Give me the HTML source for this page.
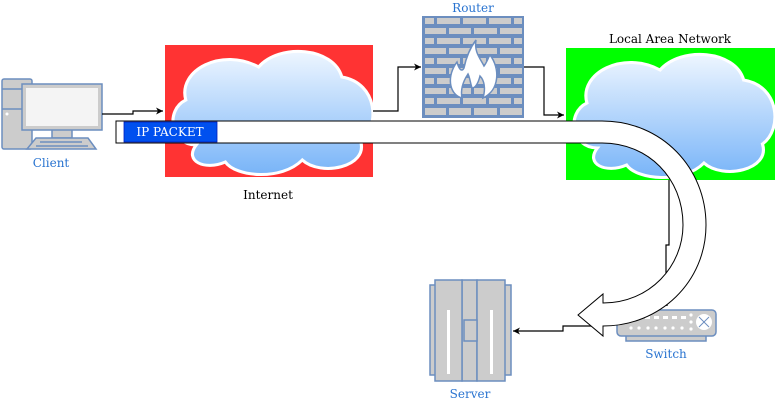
<!DOCTYPE html>
<html><head><style>
html,body{margin:0;padding:0;background:#fff;}
svg{display:block;}
text{font-family:"DejaVu Serif","Liberation Serif",serif;font-size:12px;}
.lbl{fill:#2873d0;}
</style></head><body>
<svg width="775" height="401" viewBox="0 0 775 401" xmlns="http://www.w3.org/2000/svg">
<defs>
<linearGradient id="cg" x1="0" y1="0" x2="0" y2="1">
<stop offset="0" stop-color="#eef6ff"/><stop offset="1" stop-color="#78b4f8"/>
</linearGradient>
<marker id="ar" markerWidth="8" markerHeight="8" refX="7" refY="4" orient="auto" markerUnits="userSpaceOnUse">
<path d="M0,0.5 L7,4 L0,7.5 L2,4 Z" fill="#000"/>
</marker>
<path id="cloud" d="M30,100 C5,100 0,65 20,55 C12,25 55,2 90,22 C110,-2 162,2 170,32 C205,38 207,82 188,96 C196,122 150,132 132,115 C112,136 68,132 58,117 C38,126 18,116 30,100 Z"/>
</defs>

<!-- Internet box -->
<rect x="165" y="45" width="208" height="132" fill="#ff3333"/>
<g transform="translate(165,45) scale(1.04,1)">
<use href="#cloud" fill="url(#cg)" stroke="#fff" stroke-width="3"/>
</g>
<text x="268" y="199" text-anchor="middle" fill="#000">Internet</text>

<!-- LAN box -->
<rect x="566" y="48" width="209" height="132" fill="#00ff00"/>
<g transform="translate(566,48) scale(1.045,1)">
<use href="#cloud" fill="url(#cg)" stroke="#fff" stroke-width="3"/>
</g>
<text x="670" y="43" text-anchor="middle" fill="#000">Local Area Network</text>

<!-- Client -->
<g stroke="#6c8ebf" stroke-width="1.5" fill="#cccccc">
<rect x="2" y="79" width="30" height="70" rx="2"/>
<line x1="2" y1="89" x2="32" y2="89"/>
<line x1="2" y1="109" x2="32" y2="109"/>
<rect x="52" y="128" width="20" height="10"/>
<rect x="22" y="84" width="80" height="46"/>
<rect x="26" y="88" width="72" height="38" fill="#f4f4f4" stroke="none"/>
<path d="M36,138 H88 L96,149 H27 Z"/>
</g>
<circle cx="7" cy="114" r="1.5" fill="#fff"/>
<g stroke="#6c8ebf" stroke-width="1.5"><line x1="40" y1="142" x2="82" y2="142"/><line x1="36" y1="146" x2="88" y2="146"/></g>
<text x="51" y="167" text-anchor="middle" class="lbl">Client</text>

<!-- Router firewall -->
<rect x="422" y="16" width="102" height="102" fill="#6c8ebf"/>
<g fill="#cccccc">
<rect x="425" y="18" width="9" height="6"/><rect x="437" y="18" width="23" height="6"/><rect x="463" y="18" width="23" height="6"/><rect x="489" y="18" width="22" height="6"/><rect x="514" y="18" width="8" height="6"/>
<rect x="425" y="28" width="21" height="6"/><rect x="449" y="28" width="22" height="6"/><rect x="474" y="28" width="23" height="6"/><rect x="500" y="28" width="22" height="6"/>
<rect x="425" y="38" width="9" height="6"/><rect x="437" y="38" width="23" height="6"/><rect x="463" y="38" width="23" height="6"/><rect x="489" y="38" width="22" height="6"/><rect x="514" y="38" width="8" height="6"/>
<rect x="425" y="48" width="21" height="6"/><rect x="449" y="48" width="22" height="6"/><rect x="474" y="48" width="23" height="6"/><rect x="500" y="48" width="22" height="6"/>
<rect x="425" y="58" width="9" height="6"/><rect x="437" y="58" width="23" height="6"/><rect x="463" y="58" width="23" height="6"/><rect x="489" y="58" width="22" height="6"/><rect x="514" y="58" width="8" height="6"/>
<rect x="425" y="68" width="21" height="6"/><rect x="449" y="68" width="22" height="6"/><rect x="474" y="68" width="23" height="6"/><rect x="500" y="68" width="22" height="6"/>
<rect x="425" y="78" width="9" height="6"/><rect x="437" y="78" width="23" height="6"/><rect x="463" y="78" width="23" height="6"/><rect x="489" y="78" width="22" height="6"/><rect x="514" y="78" width="8" height="6"/>
<rect x="425" y="88" width="21" height="6"/><rect x="449" y="88" width="22" height="6"/><rect x="474" y="88" width="23" height="6"/><rect x="500" y="88" width="22" height="6"/>
<rect x="425" y="98" width="9" height="6"/><rect x="437" y="98" width="23" height="6"/><rect x="463" y="98" width="23" height="6"/><rect x="489" y="98" width="22" height="6"/><rect x="514" y="98" width="8" height="6"/>
<rect x="425" y="108" width="21" height="7"/><rect x="449" y="108" width="22" height="7"/><rect x="474" y="108" width="23" height="7"/><rect x="500" y="108" width="22" height="7"/>
</g>
<path d="M462,98 C448,94 447,75 457,62 C459,70 462,72 464,68 C466,58 470,48 476,40 C474,52 480,58 484,66 C487,62 488,58 490,55 C500,68 500,90 483,98 C486,88 484,80 480,76 C478,84 475,88 472,88 C470,82 470,78 468,74 C464,80 460,88 462,98 Z" fill="#fff" stroke="#6c8ebf" stroke-width="1.5"/>
<text x="473" y="12" text-anchor="middle" class="lbl">Router</text>

<!-- Server -->
<g stroke="#6c8ebf" stroke-width="1.5" fill="#cccccc">
<rect x="430" y="285" width="81" height="90"/>
<rect x="462" y="280" width="15" height="101"/>
<rect x="435" y="280" width="27" height="101"/>
<rect x="477" y="280" width="28" height="101"/>
<rect x="464" y="320" width="13" height="21"/>
</g>
<rect x="447" y="310" width="3" height="64" fill="#fff"/>
<rect x="490" y="310" width="3" height="64" fill="#fff"/>
<text x="470" y="398" text-anchor="middle" class="lbl">Server</text>

<!-- Switch -->
<g stroke="#6c8ebf" stroke-width="1.5" fill="#cccccc">
<rect x="626" y="331" width="80" height="10"/>
<rect x="617" y="310" width="99" height="26" rx="4"/>
</g>
<g fill="#fff">
<circle cx="631" cy="328" r="1.6"/><circle cx="639" cy="328" r="1.6"/><circle cx="648" cy="328" r="1.6"/><circle cx="656" cy="328" r="1.6"/><circle cx="665" cy="328" r="1.6"/><circle cx="673" cy="328" r="1.6"/><circle cx="682" cy="328" r="1.6"/>
<rect x="636" y="316" width="5" height="3"/><rect x="645" y="316" width="5" height="3"/><rect x="654" y="316" width="5" height="3"/><rect x="663" y="316" width="5" height="3"/><rect x="672" y="316" width="5" height="3"/><rect x="681" y="316" width="5" height="3"/>
<circle cx="691" cy="315" r="1.6"/><circle cx="691" cy="322" r="1.6"/><circle cx="691" cy="329" r="1.6"/>
<circle cx="704" cy="322" r="8"/>
</g>
<g stroke="#6c8ebf" stroke-width="1"><line x1="699" y1="317" x2="709" y2="327"/><line x1="709" y1="317" x2="699" y2="327"/></g>
<text x="666" y="358" text-anchor="middle" class="lbl">Switch</text>

<!-- Connectors -->
<g fill="none" stroke="#000" stroke-width="1.2">
<path d="M102,114 H133 V111 H163" marker-end="url(#ar)"/>
<path d="M373,111 H398 V67 H421" marker-end="url(#ar)"/>
<path d="M524,67 H544 V115 H564" marker-end="url(#ar)"/>
<path d="M669,180 V245 H666 V272 L667,306" marker-end="url(#ar)"/>
<path d="M592,326 H563 V331 H513" marker-end="url(#ar)"/>
</g>

<!-- Big arrow -->
<path d="M116,121 H602 C662,121 706,168 706,225 C706,282 660,326 603,326 V336 L578,315 L603,294 V303 C650,303 683,266 683,225 C683,178 648,143 602,143 H116 Z" fill="#fff" stroke="#000" stroke-width="1"/>
<rect x="124" y="122" width="93" height="20" fill="#0050ef" stroke="#001dbc" stroke-width="0.8"/>
<text x="170" y="136" text-anchor="middle" fill="#fff">IP PACKET</text>
</svg>
</body></html>
